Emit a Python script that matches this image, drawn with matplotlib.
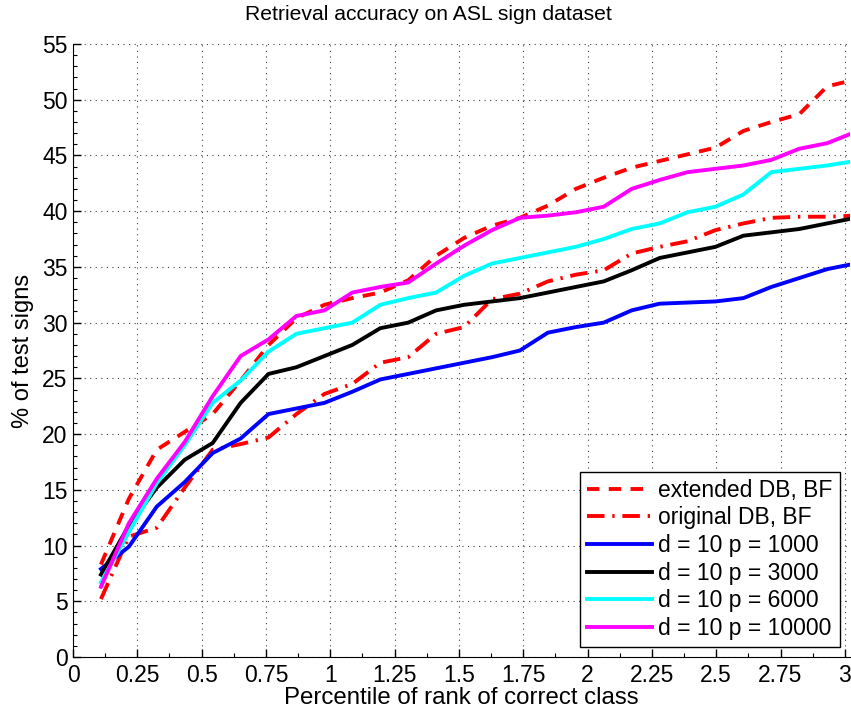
import numpy as np
import matplotlib
matplotlib.use("Agg")
import matplotlib.pyplot as plt
from matplotlib.ticker import MultipleLocator, FuncFormatter

# percentile of rank (28 ranks out of 921 classes)
ranks = np.arange(1, 29)
x = ranks * 100.0 / 921

ext_bf = [8.3, 14.2, 18.6, 20.2, 21.8, 24.8, 28.0, 30.4, 31.6, 32.2,
          32.7, 33.8, 36.0, 37.6, 38.7, 39.4, 40.5, 42.0, 43.0, 43.9,
          44.5, 45.1, 45.7, 47.2, 48.0, 48.7, 51.2, 51.8]
orig_bf = [5.2, 10.8, 11.6, 15.2, 18.6, 19.1, 19.7, 21.8, 23.6, 24.5,
           26.4, 26.9, 29.0, 29.6, 32.1, 32.6, 33.7, 34.3, 34.7, 36.2,
           36.8, 37.3, 38.3, 38.9, 39.4, 39.5, 39.5, 39.6]
p1000 = [7.9, 9.9, 13.5, 15.7, 18.3, 19.6, 21.8, 22.3, 22.8, 23.8,
         24.9, 25.4, 25.9, 26.4, 26.9, 27.5, 29.1, 29.6, 30.0, 31.1,
         31.7, 31.8, 31.9, 32.2, 33.2, 34.0, 34.8, 35.3]
p3000 = [7.4, 11.8, 15.2, 17.7, 19.2, 22.8, 25.4, 26.0, 27.0, 28.0,
         29.5, 30.0, 31.1, 31.6, 31.9, 32.2, 32.7, 33.2, 33.7, 34.7,
         35.8, 36.3, 36.8, 37.8, 38.1, 38.4, 38.9, 39.4]
p6000 = [6.7, 11.2, 15.6, 19.0, 22.8, 24.8, 27.4, 29.0, 29.5, 30.0,
         31.6, 32.2, 32.7, 34.2, 35.3, 35.8, 36.3, 36.8, 37.5, 38.4,
         38.9, 39.9, 40.4, 41.5, 43.5, 43.8, 44.1, 44.5]
p10000 = [6.3, 12.0, 16.0, 19.3, 23.4, 27.0, 28.5, 30.6, 31.1, 32.7,
          33.2, 33.6, 35.3, 36.9, 38.3, 39.4, 39.6, 39.9, 40.4, 42.0,
          42.8, 43.5, 43.8, 44.1, 44.6, 45.6, 46.1, 47.1]

plt.rcParams['font.family'] = ['Liberation Sans', 'DejaVu Sans']

fig = plt.figure(figsize=(8.51, 7.15), dpi=100)
ax = fig.add_axes([0.0858, 0.0811, 0.913, 0.8574])

lw = 2.8
ax.plot(x, ext_bf, color='red', lw=lw, linestyle=(0, (3.2, 2.4)), label='extended DB, BF')
ax.plot(x, orig_bf, color='red', lw=lw, linestyle=(0, (4.5, 2.0, 0.6, 2.0)), label='original DB, BF')
ax.plot(x, p1000, color='blue', lw=lw, label='d = 10 p = 1000')
ax.plot(x, p3000, color='black', lw=lw, label='d = 10 p = 3000')
ax.plot(x, p6000, color='cyan', lw=lw, label='d = 10 p = 6000')
ax.plot(x, p10000, color='magenta', lw=lw, label='d = 10 p = 10000')

ax.set_xlim(0, 3.02)
ax.set_ylim(0, 55)

ax.xaxis.set_major_locator(MultipleLocator(0.25))
ax.xaxis.set_minor_locator(MultipleLocator(0.125))
ax.yaxis.set_major_locator(MultipleLocator(5))
ax.yaxis.set_minor_locator(MultipleLocator(1))

def fmt_x(v, pos):
    s = f"{v:.2f}".rstrip('0').rstrip('.')
    return s

ax.xaxis.set_major_formatter(FuncFormatter(fmt_x))

ax.tick_params(which='both', direction='in', labelsize=16.5)
ax.tick_params(which='major', length=6, width=1)
ax.tick_params(which='minor', length=3, width=0.8)
ax.tick_params(axis='x', pad=5)
ax.tick_params(axis='y', pad=4)

ax.spines['top'].set_visible(False)
ax.spines['right'].set_visible(False)

ax.grid(True, which='major', color='0.25', linestyle=(0, (1, 4)), linewidth=0.8)

ax.set_title('Retrieval accuracy on ASL sign dataset', fontsize=15.2, pad=17, x=0.458)
ax.set_xlabel('Percentile of rank of correct class', fontsize=17.3, labelpad=0)
ax.set_ylabel('% of test signs', fontsize=17, labelpad=6)

leg = ax.legend(loc='lower right', fontsize=16.5, frameon=True, fancybox=False,
                edgecolor='black', framealpha=1, handlelength=2.8,
                handletextpad=0.3, borderpad=0.3, labelspacing=0.2,
                borderaxespad=0.45)
leg.get_frame().set_linewidth(1.0)

fig.savefig('out.png', dpi=100)
